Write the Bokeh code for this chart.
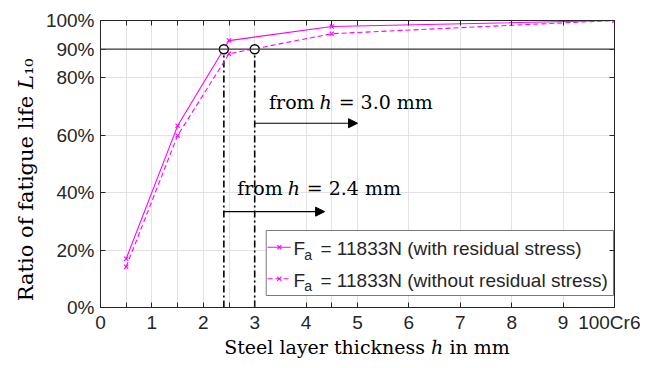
import numpy as np
from bokeh.plotting import figure
from bokeh.models import (Span, Label, Arrow, NormalHead, LinearAxis, FixedTicker,
                          Range1d)
from bokeh.embed import file_html
from bokeh.resources import INLINE

# ---------------- data ----------------
thickness = [0.5, 1.5, 2.5, 4.5, 10.0]
with_residual = [17.0, 63.3, 93.0, 97.9, 100.0]
without_residual = [14.2, 59.9, 88.4, 95.4, 100.0]
threshold_x = [2.4, 3.0]
threshold_y = [90.0, 90.0]
x_ticks = [0, 0.5, 1, 1.5, 2, 2.5, 3, 4, 4.5, 5, 6, 7, 8, 9, 10]
x_tick_labels = ["0", "", "1", "", "2", "", "3", "4", "", "5", "6", "7", "8", "9", "100Cr6"]
y_ticks = [0, 20, 40, 60, 80, 90, 100]
y_tick_labels = ["0%", "20%", "40%", "60%", "80%", "90%", "100%"]
x_title = "\u2002\u2002Steel layer thickness \u210e in mm"
y_title = "Ratio of fatigue life \U0001D43F\u2081\u2080\u2003\u2002"
series_names = ["= 11833N (with residual stress)", "= 11833N (without residual stress)"]

MAG = "#ff00ff"
AX = "#262626"
SANS = "Liberation Sans"
SERIF = "DejaVu Serif"

p = figure(width=640, height=360, x_range=Range1d(0, 10), y_range=Range1d(0, 100),
           output_backend="svg", toolbar_location=None,
           min_border_left=100, min_border_right=26, min_border_top=20, min_border_bottom=53)
p.background_fill_color = "white"
p.border_fill_color = "white"
p.outline_line_color = AX
p.outline_line_width = 1

# axes
for ax in (p.xaxis[0], p.yaxis[0]):
    ax.major_tick_in = 5
    ax.major_tick_out = 0
    ax.minor_tick_line_color = None
    ax.axis_line_color = AX
    ax.major_tick_line_color = AX
    ax.major_label_text_font = SANS
    ax.major_label_text_font_size = "19px"
    ax.major_label_text_color = AX
    ax.axis_label_text_font = SERIF
    ax.axis_label_text_font_style = "normal"
    ax.axis_label_text_color = "black"

p.xaxis[0].ticker = FixedTicker(ticks=x_ticks)
p.xaxis[0].major_label_overrides = {t: l for t, l in zip(x_ticks, x_tick_labels)}
p.xaxis[0].major_label_standoff = 4
p.xaxis[0].axis_label = x_title
p.xaxis[0].axis_label_standoff = 0
p.xaxis[0].axis_label_text_font_size = "19px"
p.yaxis[0].ticker = FixedTicker(ticks=y_ticks)
p.yaxis[0].major_label_overrides = {t: l for t, l in zip(y_ticks, y_tick_labels)}
p.yaxis[0].major_label_standoff = 6
p.yaxis[0].axis_label = y_title
p.yaxis[0].axis_label_standoff = 5
p.yaxis[0].axis_label_text_font_size = "21px"

top = LinearAxis(ticker=FixedTicker(ticks=x_ticks), major_tick_in=5, major_tick_out=0,
                 major_label_text_font_size="0px", axis_line_color=AX,
                 major_tick_line_color=AX, minor_tick_line_color=None, major_label_standoff=0)
right = LinearAxis(ticker=FixedTicker(ticks=y_ticks), major_tick_in=5, major_tick_out=0,
                   major_label_text_font_size="0px", axis_line_color=AX,
                   major_tick_line_color=AX, minor_tick_line_color=None, major_label_standoff=0)
p.add_layout(top, "above")
p.add_layout(right, "right")

# grid
p.xgrid[0].ticker = FixedTicker(ticks=x_ticks)
p.ygrid[0].ticker = FixedTicker(ticks=y_ticks)
p.xgrid.grid_line_color = "#e3e3e3"
p.ygrid.grid_line_color = "#e3e3e3"

# 90% reference line
p.add_layout(Span(location=90, dimension="width", line_color="#3a3a3a", line_width=1.2))

# threshold vertical dash-dot lines
p.segment(x0=threshold_x, y0=[0, 0], x1=threshold_x, y1=threshold_y,
          line_color="black", line_width=1.6, line_dash="7 3 2 3")

# series
p.line(thickness, with_residual, line_color=MAG, line_width=1.1)
p.scatter(thickness, with_residual, marker="x", size=6, line_color=MAG, line_width=1.1)
p.line(thickness, without_residual, line_color=MAG, line_width=1.1, line_dash="5 3")
p.scatter(thickness, without_residual, marker="x", size=6, line_color=MAG, line_width=1.1)

# threshold circles
p.scatter(threshold_x, threshold_y, marker="circle", size=9, fill_color="white",
          line_color="black", line_width=1.4)

# arrows
p.add_layout(Arrow(end=NormalHead(size=9, fill_color="black", line_color="black"),
                   x_start=threshold_x[1], y_start=64.2, x_end=5.0, y_end=64.2,
                   line_color="black", line_width=1.2))
p.add_layout(Arrow(end=NormalHead(size=9, fill_color="black", line_color="black"),
                   x_start=threshold_x[0], y_start=33.4, x_end=4.36, y_end=33.4,
                   line_color="black", line_width=1.2))

def lab(x, y, text, font=SERIF, size="19px", style="normal", align="left", angle=0,
        color="black", dx=0, dy=0):
    p.add_layout(Label(x=x, y=y, text=text, text_font=font,
                       text_font_size=size, text_font_style=style, text_align=align,
                       text_baseline="middle", angle=angle, text_color=color,
                       x_offset=dx, y_offset=dy))

# annotation texts (anchored at the italic h)
lab(4.38, 71.5, "from", align="right", dx=-11)
lab(4.38, 71.5, "h", style="italic", align="center")
lab(4.38, 71.5, "= 3.0 mm", dx=13)
lab(3.76, 41.5, "from", align="right", dx=-11)
lab(3.76, 41.5, "h", style="italic", align="center")
lab(3.76, 41.5, "= 2.4 mm", dx=13)

# legend (manual)
p.quad(left=[3.224], right=[9.98], bottom=[4.18], top=[26.83], fill_color="white",
       line_color="#7a7a7a", line_width=1)
row_y = [21.0, 10.0]
p.line([3.25, 3.70], [row_y[0]] * 2, line_color=MAG, line_width=1.1)
p.line([3.25, 3.70], [row_y[1]] * 2, line_color=MAG, line_width=1.1, line_dash="5 3")
p.scatter([3.48, 3.48], row_y, marker="x", size=6, line_color=MAG, line_width=1.1)
for ry, name in zip(row_y, series_names):
    lab(3.755, ry - 0.45, "F", font=SANS, color=AX)
    lab(4.04, ry - 2.55, "a", font=SANS, size="14px", align="center", color=AX)
    lab(4.28, ry - 0.45, name, font=SANS, color=AX)

open("out.html", "w").write(file_html(p, INLINE))
